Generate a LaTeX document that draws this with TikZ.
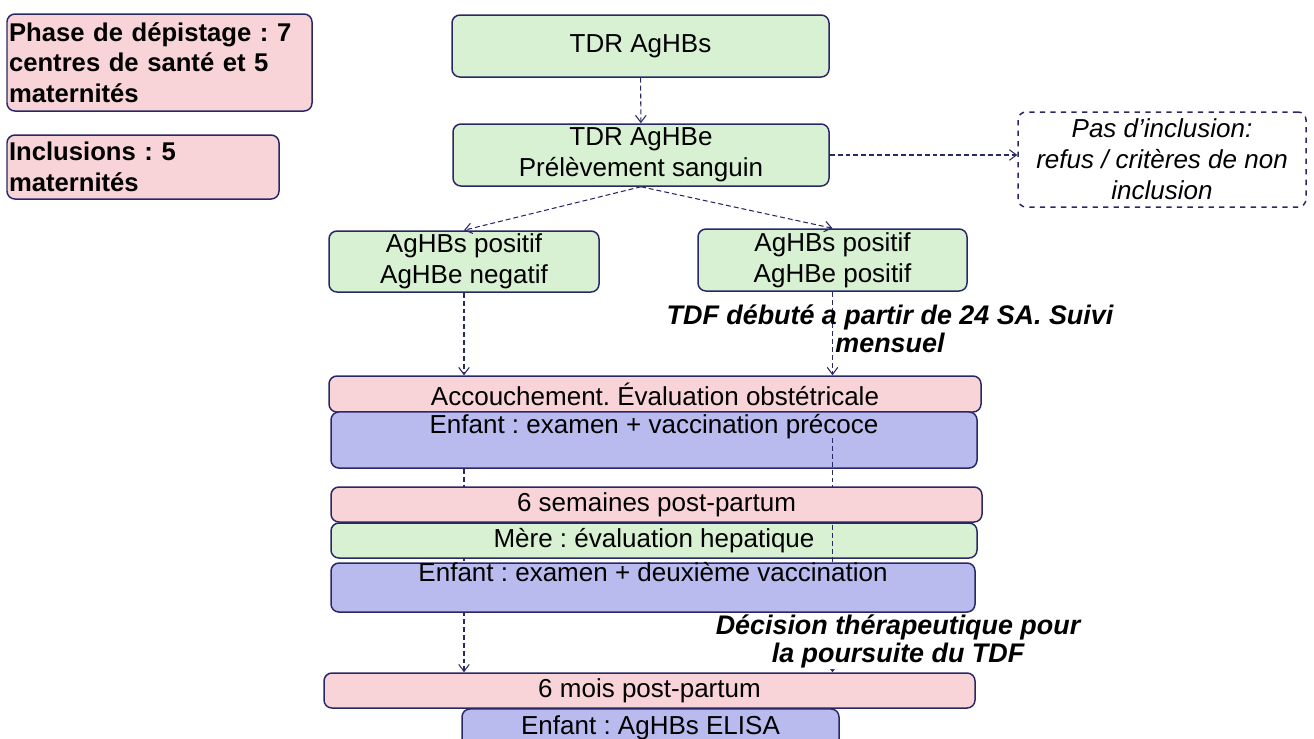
\documentclass[tikz,border=0pt]{standalone}
\usepackage{fontspec}
\setmainfont{Liberation Sans}
\usetikzlibrary{arrows.meta}
\frenchspacing

\definecolor{rosefill}{RGB}{248,212,216}
\definecolor{vertfill}{RGB}{216,241,211}
\definecolor{bleufill}{RGB}{185,186,238}
\definecolor{bord}{RGB}{40,40,102}

\tikzset{
  boite/.style={draw=bord, line width=0.85pt, rounded corners=4.5pt, inner sep=0pt,
    align=center, font=\fontsize{14.8}{17.6}\selectfont},
  rosebox/.style={boite, fill=rosefill},
  vertbox/.style={boite, fill=vertfill},
  bleubox/.style={boite, fill=bleufill},
  gras/.style={font=\fontsize{14.6}{17.4}\selectfont\bfseries, align=left},
  wh/.style 2 args={minimum width=#1*0.02cm, minimum height=#2*0.02cm},
  fleche/.style={draw=bord, line width=0.6pt, dash pattern=on 2.8pt off 1.7pt,
    -{Straight Barb[length=4pt,width=6pt]}},
  note/.style={font=\fontsize{15.3}{16}\selectfont\bfseries\itshape, align=center, inner sep=0.5pt}
}

\begin{document}
\begin{tikzpicture}[x=0.02cm, y=-0.02cm]
\path[use as bounding box, clip] (0,0) rectangle (1314,738);

\node[rosebox, gras, wh={305}{97}, text width=6.02cm] (phase) at (159.5,62.5)
  {Phase de dépistage : 7\\ centres de santé et 5\\ maternités};
\node[rosebox, gras, wh={272}{64}, text width=5.36cm] (incl) at (143,167)
  {Inclusions : 5\\ maternités};

\node[vertbox, wh={377}{62}] (tdrs) at (640.5,46) {TDR AgHBs};
\node[vertbox, wh={376}{62}] (tdre) at (641,155) {TDR AgHBe\\ Prélèvement sanguin};
\node[boite, dashed, font=\fontsize{14.8}{17.6}\selectfont\itshape, wh={288}{95}] (pas) at (1162,159.5)
  {Pas d’inclusion:\\ refus / critères de non\\ inclusion};

\node[vertbox, wh={270}{61}] (neg) at (464,261.5) {AgHBs positif\\ AgHBe negatif};
\node[vertbox, wh={269}{62}] (pos) at (832.5,260) {AgHBs positif\\ AgHBe positif};

\node[rosebox, wh={652}{36}] (acc) at (655,394) {Accouchement. Évaluation obstétricale};
\node[bleubox, wh={646}{56}, text height=12.5pt, text depth=19.4pt] (enf1) at (654,440)
  {Enfant : examen + vaccination précoce};
\node[rosebox, wh={651}{35}] (mois) at (649.5,690.5) {6 mois post-partum};
\node[bleubox, wh={377}{40}, text height=14.8pt, text depth=8pt] (elisa) at (650.5,729)
  {Enfant : AgHBs ELISA};

\draw[fleche] (tdrs) -- (tdre);
\draw[fleche] (tdre.east) -- (tdre.east -| pas.west);
\draw[fleche] (tdre.south) -- (neg.north);
\draw[fleche] (tdre.south) -- (pos.north);
\draw[fleche] (neg.south) -- (neg.south |- acc.north);
\draw[fleche] (pos.south) -- (pos.south |- acc.north);
\draw[fleche] (neg.south |- enf1.south) -- (neg.south |- mois.north);

\node[vertbox, wh={646}{35}] (mere) at (654,540.5) {Mère : évaluation hepatique};

\coordinate (suivi) at (832.5,438);
\draw[fleche] (suivi) -- (suivi |- mois.north);

\node[rosebox, wh={651}{35}] (sem) at (656.5,504.5) {6 semaines post-partum};
\node[bleubox, wh={644}{49}, text height=10.8pt, text depth=17.1pt] (enf2) at (653,587.5)
  {Enfant : examen + deuxième vaccination};

\node[note] (tdf) at (890,329) {TDF débuté a partir de 24 SA. Suivi\\ mensuel};
\node[note, fill=white] (dec) at (898,641) {Décision thérapeutique pour\\ la poursuite du TDF};
\end{tikzpicture}
\end{document}
